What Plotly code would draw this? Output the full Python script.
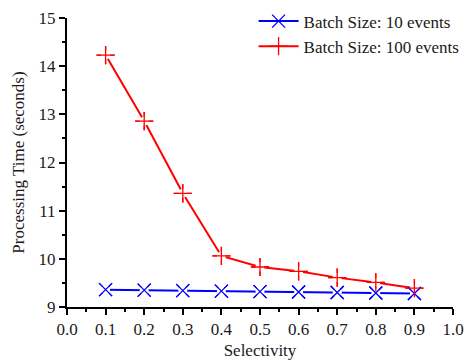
import plotly.graph_objects as go

selectivity = [0.1, 0.2, 0.3, 0.4, 0.5, 0.6, 0.7, 0.8, 0.9]
batch10 = [9.36, 9.35, 9.34, 9.33, 9.32, 9.31, 9.30, 9.29, 9.28]
batch100 = [14.23, 12.86, 11.36, 10.06, 9.83, 9.74, 9.61, 9.51, 9.39]
series_names = ["Batch Size: 10 events", "Batch Size: 100 events"]
x_ticks = [0.0, 0.1, 0.2, 0.3, 0.4, 0.5, 0.6, 0.7, 0.8, 0.9, 1.0]
y_ticks = [9, 10, 11, 12, 13, 14, 15]

FONT = "Liberation Serif, Times New Roman, serif"
TXT = "#1a1a1a"
fig = go.Figure()

specs = [
    (batch10, series_names[0], "#0000FF", "x-thin-open"),
    (batch100, series_names[1], "#FF0000", "cross-thin-open"),
]
for vals, name, color, sym in specs:
    fig.add_trace(go.Scatter(x=selectivity, y=vals, name=name, mode="lines+markers",
                             line=dict(color=color, width=2),
                             marker=dict(symbol=sym, size=13, color=color, line=dict(color=color, width=1.3))))
for vals, name, color, sym in specs:
    fig.add_trace(go.Scatter(x=selectivity, y=vals, mode="markers", showlegend=False, hoverinfo="skip",
                             marker=dict(symbol="circle", size=9, color="white", line=dict(width=0))))
for vals, name, color, sym in specs:
    fig.add_trace(go.Scatter(x=selectivity, y=vals, mode="markers", showlegend=False,
                             marker=dict(symbol=sym, size=13, color=color, line=dict(color=color, width=1.3))))

axis_common = dict(showline=True, linecolor="black", linewidth=2, ticks="outside", ticklen=6,
                   tickwidth=1.5, tickcolor="black", showgrid=False, zeroline=False,
                   tickfont=dict(family=FONT, size=17, color=TXT), mirror=False, automargin=False)
fig.update_xaxes(range=[0, 1], tickvals=x_ticks, ticktext=[f"{v:.1f}" for v in x_ticks], tickangle=0,
                 minor=dict(dtick=0.05, ticks="outside", ticklen=3, tickwidth=1.5, tickcolor="black"),
                 title=dict(text="Selectivity", font=dict(family=FONT, size=17, color=TXT), standoff=6),
                 **axis_common)
fig.update_yaxes(range=[9, 15], tickvals=y_ticks,
                 minor=dict(dtick=0.5, ticks="outside", ticklen=3, tickwidth=1.5, tickcolor="black"),
                 title=dict(text="Processing Time (seconds)", font=dict(family=FONT, size=17, color=TXT), standoff=10),
                 **axis_common)
fig.update_layout(
    width=466, height=360,
    margin=dict(l=67, r=13, t=18, b=53, autoexpand=False),
    plot_bgcolor="white", paper_bgcolor="white",
    legend=dict(x=1.03, xanchor="right", y=1.05, yanchor="top",
                bgcolor="rgba(0,0,0,0)", font=dict(family=FONT, size=17, color=TXT),
                tracegroupgap=0, itemwidth=40),
)
fig.write_html("out.html", config={"displayModeBar": False},
               post_script="document.body.style.margin='0';document.body.style.overflow='hidden';")
